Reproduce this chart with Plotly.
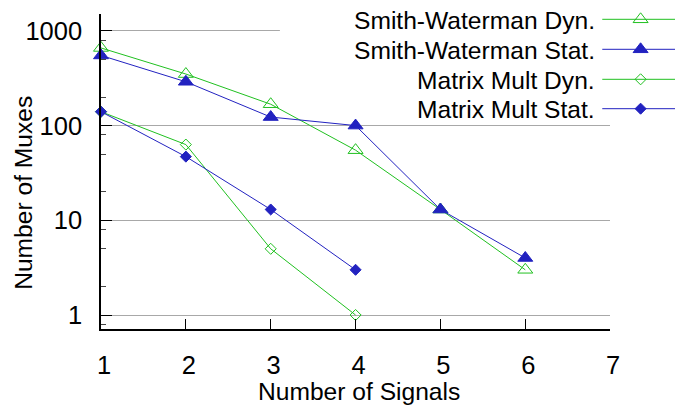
import plotly.graph_objects as go

# ---------------- data ----------------
signals_sw = [1, 2, 3, 4, 5, 6]
sw_dyn = [660, 350, 168, 55, 13, 3]
sw_stat = [550, 290, 123, 100, 13, 4]

signals_mm = [1, 2, 3, 4]
mm_dyn = [140, 63, 5, 1]
mm_stat = [140, 47, 13, 3]

series_names = ["Smith-Waterman Dyn.", "Smith-Waterman Stat.",
                "Matrix Mult Dyn.", "Matrix Mult Stat."]

x_ticks = [1, 2, 3, 4, 5, 6, 7]
y_ticks = [1, 10, 100, 1000]
y_tick_text = ["1", "10", "100", "1000"]
y_minor = [0.8, 2, 5, 8, 20, 50, 80, 200, 500, 800]

# ---------------- layout constants (pixels) ----------------
W, H = 685, 406
L, B = 101, 77          # margins (right / top are 0; main plot gets a domain)
AREA_W = W - L          # 584
AREA_H = H - B          # 329
PLOT_RIGHT = 619
PLOT_TOP = 14

GREEN = "#20c020"
BLUE = "#2222c0"
FONT = "Liberation Sans, Arial, Helvetica, sans-serif"


def px_x(p):
    return (p - L) / AREA_W


def px_y(p):
    return (AREA_H - p) / AREA_H


fig = go.Figure()

styles = [
    (signals_sw, sw_dyn, GREEN, "triangle-up-open", 13),
    (signals_sw, sw_stat, BLUE, "triangle-up", 13),
    (signals_mm, mm_dyn, GREEN, "diamond-open", 8.5),
    (signals_mm, mm_stat, BLUE, "diamond", 8.5),
]

for (xs, ys, col, sym, sz), name in zip(styles, series_names):
    fig.add_trace(go.Scatter(
        x=xs, y=ys, name=name, mode="lines+markers",
        line=dict(color=col, width=1),
        marker=dict(symbol=sym, size=sz, color=col, line=dict(color=col, width=1)),
        cliponaxis=False, showlegend=False, xaxis="x", yaxis="y"))

# ---------------- custom gnuplot-like key (text left, sample right) ----------------
row_y = [19.3, 49.3, 79.3, 108.7]
key_line_x = [611, 685]
key_marker_x = 650
key_text_right = 606

for (xs, ys, col, sym, sz), name, ry in zip(styles, series_names, row_y):
    fig.add_trace(go.Scatter(
        x=key_line_x, y=[ry, ry], mode="lines", line=dict(color=col, width=1),
        showlegend=False, hoverinfo="skip", xaxis="x2", yaxis="y2", cliponaxis=False))
    fig.add_trace(go.Scatter(
        x=[key_marker_x], y=[ry], mode="markers",
        marker=dict(symbol=sym, size=sz, color=col, line=dict(color=col, width=1)),
        showlegend=False, hoverinfo="skip", xaxis="x2", yaxis="y2", cliponaxis=False))
    fig.add_annotation(
        x=px_x(key_text_right), y=px_y(ry + 1), xref="paper", yref="paper",
        text=name, showarrow=False, xanchor="right", yanchor="middle",
        font=dict(size=24.6, color="black", family=FONT))

# opaque key box hides the 1000 grid line behind it
fig.add_shape(type="rect", xref="x2", yref="y2", x0=283, x1=685, y0=0, y1=45,
              fillcolor="white", line=dict(width=0), layer="below")

# axis titles
fig.add_annotation(x=px_x(363.5), y=px_y(391), xref="paper", yref="paper",
                   text="Number of Signals", showarrow=False,
                   xanchor="center", yanchor="middle",
                   font=dict(size=24.6, color="black", family=FONT))
fig.add_annotation(x=px_x(22), y=px_y(192.5), xref="paper", yref="paper",
                   text="Number of Muxes", showarrow=False, textangle=-90,
                   xanchor="center", yanchor="middle",
                   font=dict(size=24.6, color="black", family=FONT))

fig.update_layout(
    width=W, height=H,
    margin=dict(l=L, r=0, t=0, b=B, pad=0),
    paper_bgcolor="white", plot_bgcolor="rgba(0,0,0,0)",
    font=dict(family=FONT, size=25.5, color="black"),
    showlegend=False,
    xaxis=dict(
        domain=[0, (PLOT_RIGHT - L) / AREA_W], range=[1, 7],
        tickmode="array", tickvals=x_ticks, ticktext=[str(v) for v in x_ticks],
        ticks="inside", ticklen=10, tickwidth=1, tickcolor="black",
        showline=True, linecolor="black", linewidth=1.5,
        showgrid=False, zeroline=False, ticklabelshift=3, ticklabelstandoff=13,
        tickfont=dict(size=25.5, color="black", family=FONT)),
    yaxis=dict(
        domain=[0, (AREA_H - PLOT_TOP) / AREA_H], type="log",
        range=[-0.1478, 3.178],
        tickmode="array", tickvals=y_ticks, ticktext=y_tick_text,
        ticks="inside", ticklen=11, tickwidth=1, tickcolor="black",
        minor=dict(tickmode="array", tickvals=y_minor, ticks="inside",
                   ticklen=5, tickwidth=1, tickcolor="#444444", showgrid=False),
        showline=True, linecolor="black", linewidth=1.5,
        showgrid=True, gridcolor="#a8a8a8", gridwidth=1, zeroline=False,
        ticklabelstandoff=12,
        tickfont=dict(size=25.5, color="black", family=FONT)),
    xaxis2=dict(domain=[0, 1], range=[L, W], visible=False, anchor="y2"),
    yaxis2=dict(domain=[0, 1], range=[AREA_H, 0], visible=False, anchor="x2"),
)

fig.write_html("out.html")
